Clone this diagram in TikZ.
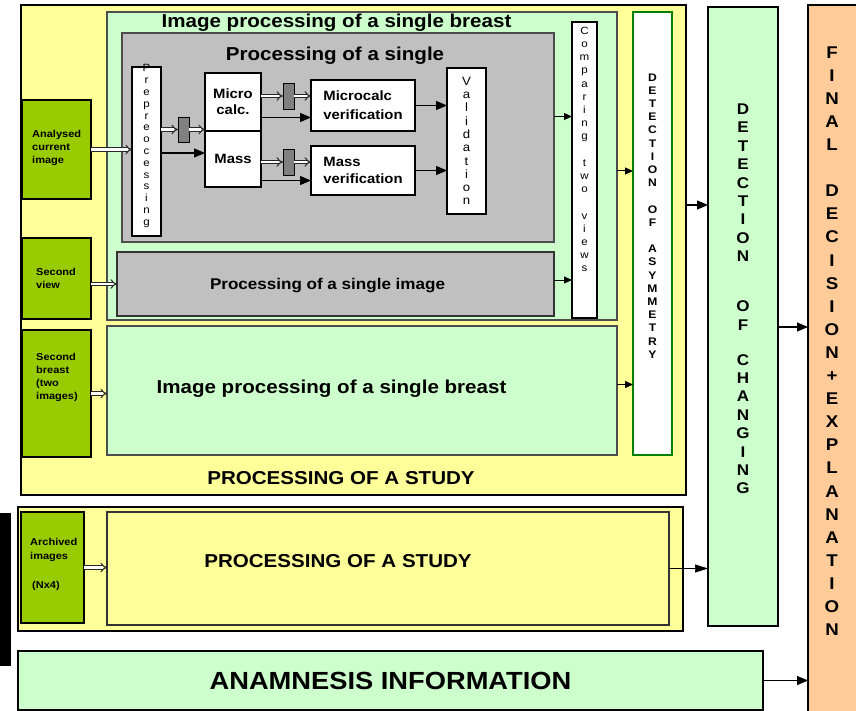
\documentclass[tikz,border=0pt]{standalone}
\usepackage{fontspec}
\setmainfont[FakeStretch=1.1]{Liberation Sans}
\usetikzlibrary{arrows.meta,positioning}
\definecolor{studyyellow}{HTML}{FFFF99}
\definecolor{breastgreen}{HTML}{CCFFCC}
\definecolor{inputgreen}{HTML}{99CC00}
\definecolor{procgray}{HTML}{C0C0C0}
\definecolor{blockgray}{HTML}{808080}
\definecolor{finalorange}{HTML}{FFCC99}
\definecolor{asymgreen}{HTML}{008000}
\newcommand{\fs}[2]{\fontsize{#1}{#2}\selectfont}

\begin{document}
\begin{tikzpicture}[x=1pt,y=-1pt,
  box/.style={draw, anchor=north west, inner sep=0pt, outer sep=0pt, line width=1.2pt},
  inbox/.style={box, fill=inputgreen, line width=2pt},
  blk/.style={box, fill=blockgray, line width=0.9pt, minimum width=11pt},
  vtxt/.style={align=center, inner sep=0pt},
  lbl/.style={anchor=north west, align=left, inner sep=0pt, font=\bfseries\fs{10}{13.2}},
  title/.style={anchor=base, inner sep=0pt, font=\bfseries\fs{18.7}{22}},
  arr/.style={line width=1.2pt, -{Triangle[length=11pt,width=9pt]}},
  sarr/.style={line width=1pt, -{Triangle[length=8pt,width=7pt]}},
  dbl/.style={draw=black!85, double=white, double distance=2.2pt, line width=1pt, -{Implies}}]
\useasboundingbox (0,0) rectangle (856,711);

\node[box, fill=studyyellow, line width=2pt, minimum width=665pt, minimum height=490pt] (study) at (21,5) {};
\node[box, draw=black!70, fill=breastgreen, minimum width=510pt, minimum height=308pt] (breast) at (107,12) {};
\node[box, draw=black!70, fill=procgray, minimum width=432pt, minimum height=209pt] (single) at (122,33) {};
\node[box, fill=white, minimum width=29pt, minimum height=169pt] (prep) at (132,67) {};
\node[box, fill=white, minimum width=56pt, minimum height=58pt, align=center, font=\bfseries\fs{13.5}{16}] (micro) at (205,73) {Micro\\calc.};
\node[box, fill=white, minimum width=56pt, minimum height=56pt, font=\bfseries\fs{13.5}{16}] (mass) at (205,131) {Mass};
\node[blk, minimum height=25pt] (gblk1) at (178,117) {};
\node[blk, minimum height=26pt] (gblk2) at (283,83) {};
\node[blk, minimum height=26pt] (gblk3) at (283,149) {};
\node[box, fill=white, minimum width=104pt, minimum height=51pt, align=left, font=\bfseries\fs{13.5}{19}] (mcver) at (311,80) {Microcalc\\verification};
\node[box, fill=white, minimum width=104pt, minimum height=49pt, align=left, font=\bfseries\fs{13.5}{17}] (msver) at (311,146) {Mass\\verification};
\node[box, fill=white, minimum width=39pt, minimum height=146pt] (valid) at (447,68) {};
\node[box, draw=black!80, fill=procgray, minimum width=437pt, minimum height=64pt] (view2) at (117,252) {};
\node[box, fill=white, minimum width=25pt, minimum height=296pt] (comp) at (572,22) {};
\node[box, draw=black!70, fill=breastgreen, minimum width=510pt, minimum height=129pt] (breast2) at (107,326) {};
\node[box, draw=asymgreen, line width=2pt, fill=white, minimum width=39pt, minimum height=443pt] (asym) at (633,12) {};
\node[inbox, minimum width=69pt, minimum height=99pt] (in1) at (22,100) {};
\node[inbox, minimum width=69pt, minimum height=81pt] (in2) at (22,238) {};
\node[inbox, minimum width=69pt, minimum height=127pt] (in3) at (22,330) {};

\node[box, fill=studyyellow, line width=2pt, minimum width=665pt, minimum height=124pt] (study2) at (18,507) {};
\node[box, draw=black!80, fill=studyyellow, minimum width=562pt, minimum height=113pt] (inner) at (107,512) {};
\node[inbox, minimum width=63pt, minimum height=111pt] (in4) at (21,512) {};
\node[box, fill=black, minimum width=10pt, minimum height=151pt] (bar) at (0,514) {};
\node[box, fill=breastgreen, line width=2pt, minimum width=745pt, minimum height=59pt, font=\bfseries\fs{24.8}{28}] (anam) at (18,651) {ANAMNESIS INFORMATION};
\node[box, fill=breastgreen, line width=2pt, minimum width=70pt, minimum height=619pt] (change) at (708,7) {};
\node[box, fill=finalorange, line width=2pt, minimum width=54pt, minimum height=711pt] (final) at (808,5) {};

\node[title] (t1) at (336.5,28) {Image processing of a single breast};
\node[title] (t2) at (335,61) {Processing of a single};
\node[title, font=\bfseries\fs{15.5}{18}] (t3) at (327.5,289) {Processing of a single image};
\node[title] (t4) at (331.5,393) {Image processing of a single breast};
\node[title] (t5) at (341,484) {PROCESSING OF A STUDY};
\node[title] (t6) at (338,567) {PROCESSING OF A STUDY};

\node[lbl] (l1) at (32,129.8) {Analysed\\current\\image};
\node[lbl] (l2) at (36,267.8) {Second\\view};
\node[lbl] (l3) at (36,352.8) {Second\\breast\\(two\\images)};
\node[lbl] (l4) at (30,538.5) {Archived\\images\\[16.5pt]\hspace{2pt}(Nx4)};

\node[vtxt, font=\fs{10.5}{11.8}] (v1) at (146.5,146) {P\\r\\e\\p\\r\\e\\o\\c\\e\\s\\s\\i\\n\\g};
\node[vtxt, font=\fs{12}{13.3}] (v2) at (466.5,141) {V\\a\\l\\i\\d\\a\\t\\i\\o\\n};
\node[vtxt, font=\fs{10.5}{13.2}] (v3) at (584.5,149.5) {C\\o\\m\\p\\a\\r\\i\\n\\g\\[13.2pt]t\\w\\o\\[13.2pt]v\\i\\e\\w\\s};
\node[vtxt, font=\bfseries\fs{11}{13.2}] (v4) at (652.5,216) {D\\E\\T\\E\\C\\T\\I\\O\\N\\[13.2pt]O\\F\\[13.2pt]A\\S\\Y\\M\\M\\E\\T\\R\\Y};
\node[vtxt, font=\bfseries\fs{15.5}{18.4}] (v5) at (743,299) {D\\E\\T\\E\\C\\T\\I\\O\\N\\[31.6pt]O\\F\\[16.6pt]C\\H\\A\\N\\G\\I\\N\\G};
\node[vtxt, font=\bfseries\fs{17}{23.1}] (v6) at (832,341) {F\\I\\N\\A\\L\\[23.1pt]D\\E\\C\\I\\S\\I\\O\\N\\+\\E\\X\\P\\L\\A\\N\\A\\T\\I\\O\\N};

\draw[dbl] (in1.east) -- (in1.east -| prep.west);
\draw[dbl] (gblk1.west -| prep.east) -- (gblk1.west);
\draw[dbl] (gblk1.east) -- (gblk1.east -| micro.west);
\draw[arr] ([yshift=6pt]prep.east |- mass.west) -- ([yshift=6pt]mass.west);
\draw[dbl] (gblk2.west -| micro.east) -- (gblk2.west);
\draw[dbl] (gblk2.east) -- (gblk2.east -| mcver.west);
\draw[arr] ([yshift=-12pt]micro.east |- mcver.west) -- ([yshift=-12pt]mcver.west);
\draw[dbl] (gblk3.west -| mass.east) -- (gblk3.west);
\draw[dbl] (gblk3.east) -- (gblk3.east -| msver.west);
\draw[arr] ([yshift=-10pt]mass.east |- msver.west) -- ([yshift=-10pt]msver.west);
\draw[arr] (mcver.east) -- (mcver.east -| valid.west);
\draw[arr] (msver.east) -- (msver.east -| valid.west);
\draw[sarr] ([yshift=21pt]single.east) -- ([yshift=21pt]single.east -| comp.west);
\draw[sarr] ([yshift=4pt]view2.east) -- ([yshift=4pt]view2.east -| comp.west);
\draw[dbl] (in2.east |- view2.west) -- (view2.west);
\draw[dbl] (in3.east) -- (in3.east -| breast2.west);
\draw[sarr] ([yshift=-5pt]breast.east) -- ([yshift=-5pt]breast.east -| asym.west);
\draw[sarr] ([yshift=6pt]breast2.east) -- ([yshift=6pt]breast2.east -| asym.west);
\draw[arr] ([yshift=45pt]study.east) -- ([yshift=45pt]study.east -| change.west);
\draw[dbl] (in4.east) -- (in4.east -| inner.west);
\draw[line width=0.7pt, -{Triangle[length=13pt,width=8pt]}] (inner.east) -- (inner.east -| change.west);
\draw[arr] ([yshift=-10.5pt]change.east) -- ([yshift=-10.5pt]change.east -| final.west);
\draw[arr] (anam.east) -- (anam.east -| final.west);
\end{tikzpicture}
\end{document}
